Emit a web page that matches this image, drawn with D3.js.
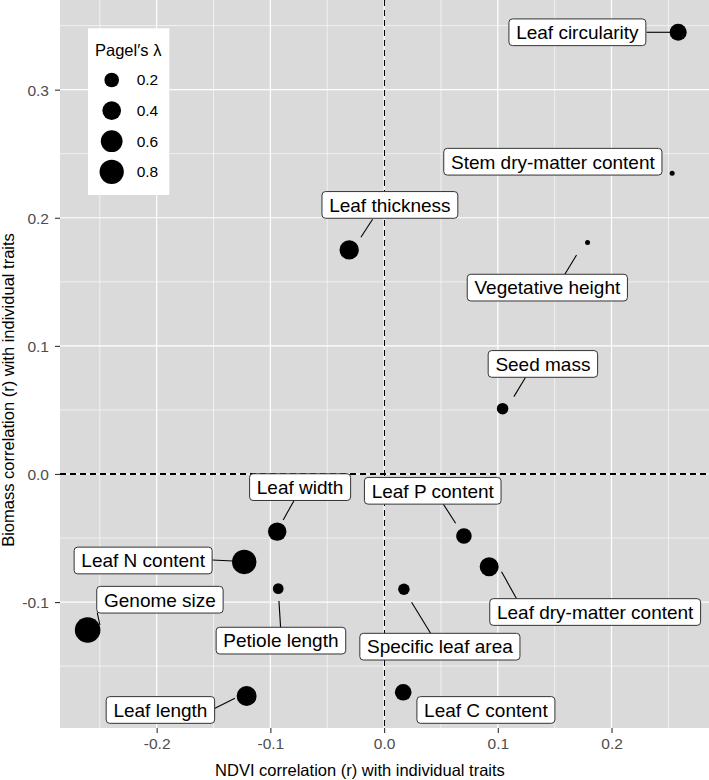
<!DOCTYPE html>
<html><head><meta charset="utf-8">
<script src="https://cdn.jsdelivr.net/npm/d3@7"></script>
<style>body{margin:0;background:#fff} text{font-family:"Liberation Sans",Arial,Helvetica,sans-serif}</style>
</head><body><svg id="chart" width="709" height="780"></svg>
<script>
// ---- data ----
const traits = ["Leaf circularity","Stem dry-matter content","Leaf thickness","Vegetative height","Seed mass","Leaf width","Leaf P content","Leaf dry-matter content","Leaf N content","Petiole length","Specific leaf area","Genome size","Leaf length","Leaf C content"];
const ndviR    = [0.2586, 0.2533, -0.0307, 0.1789, 0.1042, -0.0940, 0.0702, 0.0924, -0.1230, -0.0931, 0.0174, -0.2607, -0.1209, 0.0168];
const biomassR = [0.3448, 0.2347, 0.1749, 0.1806, 0.0510, -0.0450, -0.0484, -0.0724, -0.0687, -0.0895, -0.0900, -0.1218, -0.1733, -0.1704];
const pagelLambda = [0.31, 0.0, 0.44, 0.0, 0.09, 0.39, 0.24, 0.42, 0.81, 0.07, 0.09, 0.91, 0.48, 0.29];
const xTicks = [-0.2, -0.1, 0.0, 0.1, 0.2];
const yTicks = [-0.1, 0.0, 0.1, 0.2, 0.3];
const xMinor = [-0.25, -0.15, -0.05, 0.05, 0.15, 0.25];
const yMinor = [-0.15, -0.05, 0.05, 0.15, 0.25, 0.35];
const legendLambdas = [0.2, 0.4, 0.6, 0.8];
const xTitle = "NDVI correlation (r) with individual traits";
const yTitle = "Biomass correlation (r) with individual traits";
const legendTitle = "Pagel\u2032s \u03bb";

// ---- label layout (pixel offsets from the point: box centre, segment start, segment end) ----
const labelLayout = [
  {dx:-100.8, dy:0,     seg:[-31.6,0,-8,0]},
  {dx:-119.3, dy:-11.6, seg:null},
  {dx:40.7,  dy:-45,    seg:[23.4,-30.7,11.7,-12.7]},
  {dx:-40.2, dy:45,     seg:[-22.7,31.6,-11,12.3]},
  {dx:40.3,  dy:-44.7,  seg:[23,-31.4,11.3,-12]},
  {dx:22.9,  dy:-44.5,  seg:[17,-31.4,6,-11.7]},
  {dx:-31.2, dy:-45.2,  seg:[-20.7,-32,-8.3,-12.7]},
  {dx:106,   dy:45.3,   seg:[27.4,32,12.4,5]},
  {dx:-101.1,dy:-1.5,   seg:[-32,-2,-11,-1]},
  {dx:2.7,   dy:52,     seg:[2.4,39,0.7,12.3]},
  {dx:36,    dy:57.4,   seg:[26.7,44,7.7,13]},
  {dx:72.3,  dy:-30.3,  seg:[9.6,-17.3,12.3,-5]},
  {dx:-86.2, dy:14,     seg:[-31.7,12.3,-11.7,2.3]},
  {dx:82.7,  dy:17.7,   seg:null}
];

const W = 709, H = 780;
const P = {l:60, r:709, t:0, b:728};
const svg = d3.select("#chart");
const x = d3.scaleLinear().domain([-0.285, 0.2857]).range([P.l, P.r]);
const y = d3.scaleLinear().domain([-0.1983, 0.370]).range([P.b, P.t]);
const rS = d3.scaleSqrt().domain([0, 1]).range([2.5, 13.3]);

svg.append("defs").append("clipPath").attr("id","clip")
  .append("rect").attr("x",P.l).attr("y",P.t).attr("width",P.r-P.l).attr("height",P.b-P.t);

// panel
svg.append("rect").attr("x",P.l).attr("y",P.t).attr("width",P.r-P.l).attr("height",P.b-P.t).attr("fill","#dadada");
const grid = svg.append("g").attr("clip-path","url(#clip)");
grid.selectAll(".xm").data(xMinor).join("line").attr("x1",d=>x(d)).attr("x2",d=>x(d)).attr("y1",P.t).attr("y2",P.b).attr("stroke","#fff").attr("stroke-width",0.6);
grid.selectAll(".ym").data(yMinor).join("line").attr("class","ym").attr("y1",d=>y(d)).attr("y2",d=>y(d)).attr("x1",P.l).attr("x2",P.r).attr("stroke","#fff").attr("stroke-width",0.6);
grid.selectAll(".xM").data(xTicks).join("line").attr("class","xM").attr("x1",d=>x(d)).attr("x2",d=>x(d)).attr("y1",P.t).attr("y2",P.b).attr("stroke","#fff").attr("stroke-width",1.2);
grid.selectAll(".yM").data(yTicks).join("line").attr("class","yM").attr("y1",d=>y(d)).attr("y2",d=>y(d)).attr("x1",P.l).attr("x2",P.r).attr("stroke","#fff").attr("stroke-width",1.2);

// reference lines
grid.append("line").attr("x1",x(0)).attr("x2",x(0)).attr("y1",P.t).attr("y2",P.b).attr("stroke","#000").attr("stroke-width",1.1).attr("stroke-dasharray","6,4").attr("shape-rendering","crispEdges");
grid.append("line").attr("y1",y(0)).attr("y2",y(0)).attr("x1",P.l).attr("x2",P.r).attr("stroke","#000").attr("stroke-width",1.1).attr("stroke-dasharray","6,4").attr("shape-rendering","crispEdges");

// axes
const fmt = d => d.toFixed(1);
const xa = svg.append("g").attr("transform",`translate(0,${P.b})`).call(d3.axisBottom(x).tickValues(xTicks).tickFormat(fmt).tickSize(5).tickPadding(4));
const ya = svg.append("g").attr("transform",`translate(${P.l},0)`).call(d3.axisLeft(y).tickValues(yTicks).tickFormat(fmt).tickSize(5).tickPadding(6));
[xa, ya].forEach(a => {
  a.select(".domain").remove();
  a.selectAll(".tick line").attr("stroke","#333").attr("stroke-width",1.1);
  a.selectAll(".tick text").attr("fill","#4d4d4d").attr("font-size",15.5).attr("font-family","'Liberation Sans',Arial,sans-serif");
});
xa.selectAll(".tick text").attr("y",20.5).attr("dy",null);
ya.selectAll(".tick text").attr("x",-11).attr("dy","0.35em");

svg.append("text").attr("x",360).attr("y",775.7).attr("text-anchor","middle").attr("font-size",16.5).attr("fill","#000").text(xTitle);
svg.append("text").attr("transform","translate(14,390) rotate(-90)").attr("text-anchor","middle").attr("font-size",16.5).attr("fill","#000").text(yTitle);

// data
const pts = traits.map((t,i)=>({t, x:ndviR[i], y:biomassR[i], l:pagelLambda[i], lay:labelLayout[i]}));
const plot = svg.append("g").attr("clip-path","url(#clip)");
plot.selectAll(".seg").data(pts.filter(d=>d.lay.seg)).join("line")
  .attr("x1",d=>x(d.x)+d.lay.seg[0]).attr("y1",d=>y(d.y)+d.lay.seg[1])
  .attr("x2",d=>x(d.x)+d.lay.seg[2]).attr("y2",d=>y(d.y)+d.lay.seg[3])
  .attr("stroke","#000").attr("stroke-width",1.1);
plot.selectAll(".pt").data(pts).join("circle").attr("class","pt")
  .attr("cx",d=>x(d.x)).attr("cy",d=>y(d.y)).attr("r",d=>rS(d.l)).attr("fill","#000");

const lab = plot.selectAll(".lab").data(pts).join("g").attr("class","lab")
  .attr("transform",d=>`translate(${x(d.x)+d.lay.dx},${y(d.y)+d.lay.dy})`);
const rects = lab.append("rect");
lab.append("text").attr("text-anchor","middle").attr("y",6.8).attr("font-size",19).attr("fill","#000").text(d=>d.t)
  .each(function(d){ d.tw = this.getComputedTextLength(); });
rects.attr("x",d=>-(d.tw+14.4)/2).attr("y",-13.35).attr("width",d=>d.tw+14.4).attr("height",26.7)
  .attr("rx",3.5).attr("fill","#fff").attr("stroke","#333").attr("stroke-width",1);

// legend
const lg = svg.append("g");
lg.append("rect").attr("x",88).attr("y",28.3).attr("width",81.3).attr("height",166.7).attr("fill","#fff");
lg.append("text").attr("x",95).attr("y",55.5).attr("font-size",16.5).attr("fill","#000").text(legendTitle);
legendLambdas.forEach((v,i)=>{
  const cy = 80 + i*30.6;
  lg.append("circle").attr("cx",111.7).attr("cy",cy).attr("r",rS(v)).attr("fill","#000");
  lg.append("text").attr("x",136.7).attr("y",cy).attr("dy","0.35em").attr("font-size",15.5).attr("fill","#000").text(v.toFixed(1));
});
</script></body></html>
